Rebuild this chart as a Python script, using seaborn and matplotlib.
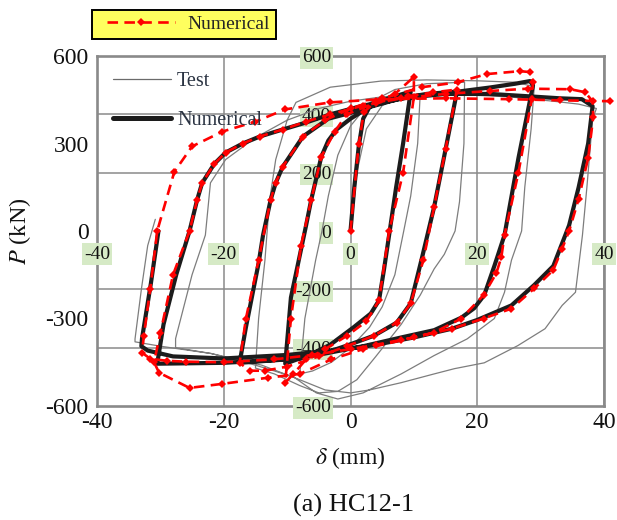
import numpy as np
import matplotlib
matplotlib.use("Agg")
import matplotlib.pyplot as plt
from matplotlib.lines import Line2D
from matplotlib.legend_handler import HandlerLine2D
from matplotlib.ticker import MultipleLocator
import seaborn as sns

# Numerical model (thick black curve): lateral displacement (mm) and load (kN)
num_disp = [0, 0.6, 1.3, 2.0, 3.0, 5, 7.5, 9.5,
            8.3, 7.2, 6.1, 5.3, 4.5,
            3.2, 0.5, -3.2, -6.5, -10.3,
            -9.4, -7, -6.2, -4.6, -3.5, -2.2, 0, 3, 8, 12, 16.8,
            15, 13.2, 11.3, 9.5,
            7.3, 3.7, -0.6, -3.2, -8, -17.5,
            -16.5, -14.5, -13.8, -12.6, -11.8, -10.7, -7.5, -3.5, 0, 5, 10, 17, 22, 26, 28.3,
            28.8, 26.5, 24.3, 22.7, 21.1,
            19.5, 17.5, 13.2, 8, 2, -4, -10, -20, -30.5,
            -29.5, -27.5, -25.4, -24.2, -23.4, -21.5, -19.7, -17, -14.3, -10.7, -7, -3.2, 2, 8, 15,
            22, 28, 33, 36.5, 38.2,
            37.5, 36, 34.5, 33.9, 32, 29, 25.4, 20, 16, 10, 4, 0, -10, -20, -28, -32, -33,
            -32.9, -31.5, -30.3]
num_load = [0, 150, 290, 385, 425, 448, 465, 478,
            300, 150, -13, -130, -238,
            -283, -330, -390, -425, -455,
            -228, 20, 107, 255, 310, 348, 385, 425, 455, 470, 478,
            280, 83, -90, -248,
            -314, -359, -393, -412, -437, -452,
            -330, -110, -14, 107, 165, 220, 324, 385, 405, 440, 462, 478, 492, 505, 514,
            500, 250, -14, -120, -220,
            -265, -297, -340, -365, -395, -420, -440, -452, -455,
            -320, -150, 0, 107, 165, 230, 269, 300, 324, 348, 372, 400, 430, 455, 470,
            470, 462, 455, 452, 428,
            300, 150, 20, -14, -120, -185, -255, -305, -335, -365, -390, -403, -425, -437, -430, -410, -395,
            -369, -180, 0]

# Test record (thin grey curve)
test_disp = [0, 1, 2.5, 5, 8, 11,
             10.6, 9.5, 8.4, 7, 5, 3, 0, -3, -6, -8,
             -7.2, -5.5, -4.5, -3.5, -2, 0, 3, 7, 12, 18,
             17.9, 17.2, 16.5, 14.8, 13.2, 11, 8, 4, 1, -2, -5, -8, -12, -15,
             -14.5, -13.5, -12.8, -11.8, -10, -8.6, -3.2, 4.8, 12, 20, 26, 29,
             28.5, 27.5, 27, 25.4, 24.3, 22.7, 18.4, 13.2, 8, 2, -2, -5.4, -9, -15, -22, -27.6,
             -27.6, -25, -22.9, -22.1, -19.7, -15, -10, -5, 0, 5, 15, 25, 32, 36, 38.8,
             38.2, 37.3, 36.6, 35.5, 33.4, 30.7, 26.4, 21.1, 16.4, 13.2, 8, 3, 0, -4, -8, -14, -22, -30, -34,
             -34, -33, -32, -30.8]
test_load = [0, 200, 350, 430, 460, 470,
             300, 120, 0, -150, -260, -330, -400, -450, -480, -490,
             -300, -100, 0, 120, 260, 360, 440, 485, 505, 510,
             300, 100, 0, -80, -130, -220, -320, -430, -510, -550, -555, -530, -490, -470,
             -300, -100, 100, 245, 380, 441, 493, 514, 518, 515, 510, 495,
             350, 150, 0, -100, -210, -300, -370, -427, -490, -555, -576, -555, -500, -460, -420, -400,
             -369, -150, -14, 165, 245, 320, 380, 420, 445, 460, 470, 460, 445, 435, 420,
             383, 150, -14, -210, -255, -335, -393, -452, -472, -490, -520, -545, -555, -545, -510, -460, -420, -395, -380,
             -370, -200, -50, 40]

# Re-computed numerical response (red dashed curve with diamond markers)
red_disp = [0, 1.3, 2.1, 4, 7, 10, 10, 8.3, 6.1, 4.5,
            2.5, -0.6, -4, -7, -9, -10.3,
            -9.4, -7.8, -6.2, -4.6, -2.5, -0.6, 4, 9, 13, 16.8,
            15, 13.2, 11.5, 9.5, 7.3, 3.7, -0.6, -5, -10, -13.5, -15.9, -17.5,
            -16.5, -14.5, -12.6, -11.8, -10.7, -7.5, -4, 0, 5, 11.3, 16.9, 21.5, 26.7, 28.3,
            28.8, 28.6, 26.5, 24.3, 23.8, 23, 21, 17.5, 13.2, 8, 2, -3, -8, -13,
            -20.2, -25.4, -30.2, -31,
            -30, -28, -25.4, -24.2, -23.4, -21.5, -19.7, -17, -14.3, -10.7, -7, -3.2, 2, 8, 15,
            22, 28, 34.7, 37, 38.2, 38.3,
            37.5, 36, 34.5, 33.4, 32, 29, 25.4, 21, 16, 10, 4, 0, -6, -12, -20, -26, -29,
            -31.6, -32.9, -32.6,
            -31.6, -30.5, -27.8, -25, -20.2, -15, -10.3, -3.2, 5, 15, 25, 33, 41]
red_load = [0, 297, 407, 445, 470, 528, 459, 200, 0, -238,
            -310, -360, -405, -440, -490, -520,
            -300, -50, 107, 255, 340, 400, 440, 462, 475, 485,
            280, 83, -100, -248, -314, -359, -395, -430, -465, -479, -479, -452,
            -300, -100, 107, 165, 220, 324, 380, 420, 455, 493, 510, 538, 548, 545,
            510, 452, 200, -14, -90, -145, -220, -300, -348, -375, -405, -440, -490, -503,
            -524, -538, -486, -450,
            -350, -150, 0, 107, 165, 230, 269, 300, 324, 348, 375, 400, 430, 455, 470,
            480, 488, 486, 476, 445, 390,
            250, 110, 0, -60, -134, -197, -266, -300, -335, -365, -390, -405, -425, -440, -450, -448, -445,
            -438, -417, -359,
            -200, 0, 203, 290, 341, 375, 417, 441, 452, 455, 452, 448, 445]

x_ticks = [-40, -20, 0, 20, 40]
y_ticks_outer = [-600, -300, 0, 300, 600]
y_ticks_inner = [-600, -400, -200, 0, 200, 400, 600]

sns.set_theme(style="white")
plt.rcParams["font.family"] = ["Liberation Serif", "DejaVu Serif"]
plt.rcParams["mathtext.fontset"] = "stix"
plt.rcParams["axes.unicode_minus"] = False

fig = plt.figure(figsize=(6.17, 5.20), dpi=100)
fig.patch.set_facecolor("white")
rect = [97 / 617, 1 - 406 / 520, 507 / 617, 350 / 520]

ax = fig.add_axes(rect, zorder=0)
ax_lbl = fig.add_axes(rect, zorder=1)
ax_c = fig.add_axes(rect, zorder=2)
for a in (ax, ax_lbl, ax_c):
    a.set_xlim(-40, 40)
    a.set_ylim(-600, 600)

# base frame, grid and outer tick labels
frame_col = "#8a8a8a"
for s in ax.spines.values():
    s.set_color(frame_col)
    s.set_linewidth(1.9)
ax.set_facecolor("white")
ax.set_xticks(x_ticks)
ax.set_yticks(y_ticks_outer)
ax.yaxis.set_minor_locator(MultipleLocator(200))
ax.grid(False)
ax.grid(True, which="major", axis="x", color=frame_col, lw=1.1)
ax.grid(True, which="minor", axis="y", color=frame_col, lw=1.1)
ax.tick_params(axis="both", which="both", length=0, labelsize=17, colors="#111111")
ax.tick_params(axis="y", pad=6)
ax.tick_params(axis="x", pad=4)
ax.set_xlabel(r"$\delta$ (mm)", fontsize=17, labelpad=9, color="#111111")
ax.set_ylabel(r"$P$ (kN)", fontsize=17.5, labelpad=9, color="#111111")

# inner axis labels crossing at the origin
ax_lbl.patch.set_visible(False)
ax_lbl.spines["right"].set_visible(False)
ax_lbl.spines["top"].set_visible(False)
ax_lbl.spines["left"].set_position(("data", 0))
ax_lbl.spines["bottom"].set_position(("data", 0))
ax_lbl.spines["left"].set_color("none")
ax_lbl.spines["bottom"].set_color("none")
ax_lbl.set_xticks(x_ticks)
ax_lbl.set_yticks(y_ticks_inner)
ax_lbl.grid(False)
ax_lbl.tick_params(axis="both", length=0, labelsize=14, colors="#111111")
ax_lbl.tick_params(axis="y", pad=14)
ax_lbl.tick_params(axis="x", pad=10.5)
for t in ax_lbl.xaxis.get_major_ticks() + ax_lbl.yaxis.get_major_ticks():
    t.label1.set_bbox(dict(facecolor="#d6eac6", edgecolor="none", pad=1.5))

# curves
ax_c.patch.set_visible(False)
sns.lineplot(x=np.array(test_disp), y=np.array(test_load), sort=False, estimator=None,
             color="#7d7d7d", lw=0.9, ax=ax_c)
sns.lineplot(x=np.array(num_disp), y=np.array(num_load), sort=False, estimator=None,
             color="#1c1c1c", lw=3.0, ax=ax_c)
sns.lineplot(x=np.array(red_disp), y=np.array(red_load), sort=False, estimator=None,
             color="#ff0000", lw=1.9, marker="D", markersize=4.5, markeredgewidth=0, ax=ax_c)
red_line = ax_c.lines[-1]
red_line.set_linestyle((0, (4, 2.4)))
red_line.set_clip_on(False)
ax_c.axis("off")

ax_c.legend(handles=[Line2D([], [], color="#6b6b6b", lw=0.9),
                     Line2D([], [], color="#1c1c1c", lw=3.6)],
            labels=["Test", "Numerical"], loc="upper left",
            bbox_to_anchor=(-0.005, 1.005), frameon=False, fontsize=14.5,
            handlelength=2.9, handletextpad=0.3, labelspacing=0.95, labelcolor="#2a3342")

leg = fig.legend(handles=[Line2D([], [], color="#ff0000", lw=1.9, ls=(0, (4, 2.4)),
                                 marker="D", markersize=4.5, markeredgewidth=0)],
                 labels=["Numerical"], loc="upper left",
                 bbox_to_anchor=(92 / 617, 1 - 10 / 520), borderaxespad=0,
                 frameon=True, fancybox=False, facecolor="#ffff5e", edgecolor="black",
                 framealpha=1, fontsize=14, handlelength=4.0, handletextpad=0.65,
                 borderpad=0.28, numpoints=1,
                 handler_map={Line2D: HandlerLine2D(xpad=0.5, numpoints=1)})
leg.get_frame().set_linewidth(1.4)

fig.text(354 / 617, 1 - 505 / 520, "(a) HC12-1", ha="center", va="center",
         fontsize=19, color="#111111")

fig.savefig("out.png", dpi=100)
